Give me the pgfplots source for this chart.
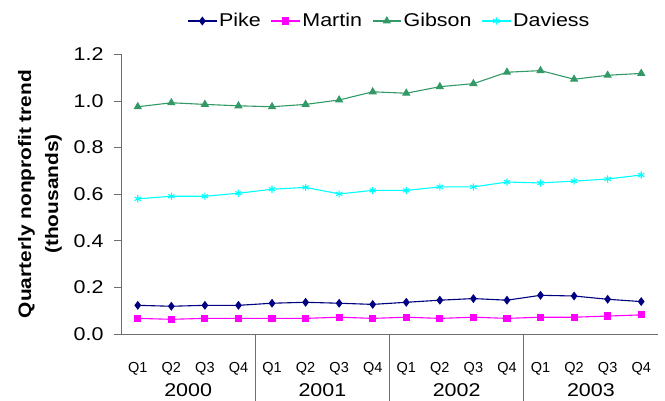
\documentclass[border=0pt]{standalone}
\usepackage{fontspec}
\setmainfont{Liberation Sans}[FakeStretch=1.16]
\newfontfamily\qfont{Liberation Sans}
\usepackage{pgfplots}
\pgfplotsset{compat=1.18}
\definecolor{pike}{RGB}{0,0,128}
\definecolor{martin}{RGB}{255,0,255}
\definecolor{gibson}{RGB}{51,153,102}
\definecolor{daviess}{RGB}{0,255,255}
\definecolor{axgray}{RGB}{110,110,110}
\begin{document}
\begin{tikzpicture}
\path[use as bounding box] (0,0) rectangle (665pt,401pt);
\begin{axis}[
  at={(121pt,67pt)}, anchor=south west,
  scale only axis, width=537pt, height=279.7pt,
  xmin=-0.5, xmax=15.5, ymin=0, ymax=1.2,
  axis x line*=bottom, axis y line*=left,
  axis line style={axgray, line width=0.8pt},
  xtick={0,...,15},
  xticklabels={Q1,Q2,Q3,Q4,Q1,Q2,Q3,Q4,Q1,Q2,Q3,Q4,Q1,Q2,Q3,Q4},
  x tick label style={font=\qfont\fontsize{14.5}{16}\selectfont, anchor=base, yshift=-31.5pt},
  major x tick style={draw=none},
  extra x ticks={-0.5,0.5,...,15.5},
  extra x tick labels={},
  extra x tick style={major tick length=5pt, tick align=outside, tick style={axgray, line width=0.8pt, draw=axgray}},
  ytick={0,0.2,...,1.2},
  tick align=outside,
  major tick length=7pt,
  y tick style={axgray, line width=0.8pt},
  yticklabel style={font=\fontsize{18.5}{20}\selectfont, xshift=-7pt, /pgf/number format/assume math mode=true, /pgf/number format/fixed, /pgf/number format/fixed zerofill, /pgf/number format/precision=1},
  legend style={at={(0.5,1.119)}, anchor=center, draw=none, legend columns=4,
    font=\fontsize{18.5}{20}\selectfont,
    /tikz/every even column/.append style={column sep=8pt}},
  legend image code/.code={\draw[mark repeat=2,mark phase=2] plot coordinates {(0cm,0cm) (0.5cm,0cm) (1cm,0cm)};},
  clip=false,
]
\addplot[pike, line width=1.1pt, mark=diamond*, mark size=3.6pt, mark options={solid}] coordinates {
(0,0.123) (1,0.119) (2,0.123) (3,0.123) (4,0.132) (5,0.136) (6,0.132) (7,0.127)
(8,0.136) (9,0.145) (10,0.152) (11,0.145) (12,0.166) (13,0.163) (14,0.149) (15,0.139)};
\addlegendentry{Pike}
\addplot[martin, line width=1.1pt, mark=square*, mark size=3pt] coordinates {
(0,0.067) (1,0.063) (2,0.067) (3,0.067) (4,0.067) (5,0.067) (6,0.072) (7,0.067)
(8,0.072) (9,0.067) (10,0.072) (11,0.067) (12,0.072) (13,0.072) (14,0.077) (15,0.082)};
\addlegendentry{Martin}
\addplot[gibson, line width=1.1pt, mark=triangle*, mark size=3.8pt] coordinates {
(0,0.975) (1,0.992) (2,0.985) (3,0.979) (4,0.975) (5,0.985) (6,1.004) (7,1.039)
(8,1.033) (9,1.061) (10,1.074) (11,1.123) (12,1.130) (13,1.093) (14,1.110) (15,1.118)};
\addlegendentry{Gibson}
\addplot[daviess, line width=1.1pt, mark=asterisk, mark size=3.6pt] coordinates {
(0,0.580) (1,0.591) (2,0.591) (3,0.604) (4,0.621) (5,0.629) (6,0.601) (7,0.616)
(8,0.616) (9,0.631) (10,0.631) (11,0.652) (12,0.648) (13,0.656) (14,0.665) (15,0.682)};
\addlegendentry{Daviess}
\foreach \s in {3.5,7.5,11.5} {
  \edef\tmp{\noexpand\draw[axgray, line width=0.8pt] (axis cs:\s,0) -- ++(0pt,-70pt);}
  \tmp
}
\foreach \c/\y in {1.5/2000,5.5/2001,9.5/2002,13.5/2003} {
  \edef\tmp{\noexpand\node[anchor=base, font=\noexpand\fontsize{18.5}{20}\noexpand\selectfont] at (axis cs:\c,0) [yshift=-63pt] {\y};}
  \tmp
}
\end{axis}
\node[rotate=90, anchor=south, align=center, inner sep=0pt,
  font=\bfseries\fontsize{18}{27}\selectfont] at (62pt,207pt)
  {Quarterly nonprofit trend\\(thousands)};
\end{tikzpicture}
\end{document}
